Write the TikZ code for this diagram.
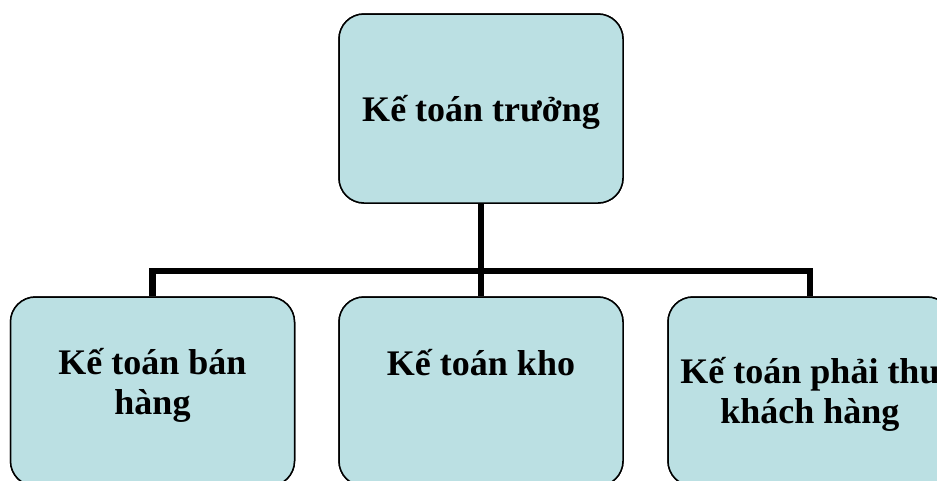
\documentclass[tikz,border=0pt]{standalone}
\usepackage{fontspec}
\setmainfont{Liberation Serif}
\usepackage{tikz}
\usetikzlibrary{positioning,calc}
\definecolor{boxfill}{RGB}{187,224,227}

\tikzset{
  box/.style={draw=black, line width=1.5pt, fill=boxfill, rounded corners=25pt,
    minimum width=284pt, minimum height=189pt, inner sep=0pt},
  lbl/.style={font=\bfseries\fontsize{36}{40}\selectfont, align=center, anchor=base, inner sep=0pt},
  conn/.style={line width=6.5pt}
}

\begin{document}
\begin{tikzpicture}[x=1pt,y=-1pt]
\clip (0,0) rectangle (937,480);
% boxes
\node[box] (truong) at (481,108.5) {};
\node[box] (ban) at (152.5,391.5) {};
\node[box] (kho) at (481,391.5) {};
\node[box] (thu) at (810,391.5) {};
% connectors
\coordinate (hub) at (481,271);
\draw[conn] (truong.south) -- (hub);
\draw[conn] (ban.north) -- (ban.north |- hub) -- (thu.north |- hub) -- (thu.north);
\draw[conn] (hub) -- (kho.north);
% redraw boxes over the line ends
\node[box] at (truong) {};
\node[box] at (ban) {};
\node[box] at (kho) {};
\node[box] at (thu) {};
% labels (base = last line)
\node[lbl] (truongT) at (481,121) {Kế toán trưởng};
\node[lbl] (banT) at (152.5,414) {Kế toán bán\\hàng};
\node[lbl] (khoT) at (481,375) {Kế toán kho};
\node[lbl] (thuT) at (810,423) {Kế toán phải thu\\khách hàng};
\end{tikzpicture}
\end{document}
